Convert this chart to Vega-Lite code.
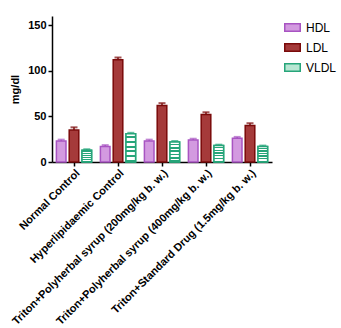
{
  "$schema": "https://vega.github.io/schema/vega-lite/v6.json",
  "width": 220,
  "height": 146,
  "autosize": {"type": "none"},
  "padding": {"left": 52, "top": 16, "right": 69, "bottom": 166},
  "background": "white",
  "config": {
    "font": "Liberation Sans",
    "view": {"stroke": null},
    "axis": {"grid": false, "domainColor": "black", "tickColor": "black", "domainWidth": 1.5, "tickWidth": 1.5, "labelColor": "black", "titleColor": "black", "labelFontWeight": "bold", "labelFont": "Liberation Sans"}
  },
  "data": {
    "values": [
      {"group": "Normal Control", "lipid": "HDL", "value": 23, "upper": 24.5},
      {"group": "Normal Control", "lipid": "LDL", "value": 35, "upper": 38},
      {"group": "Normal Control", "lipid": "VLDL", "value": 13, "upper": 14},
      {"group": "Hyperlipidaemic  Control", "lipid": "HDL", "value": 17, "upper": 18.5},
      {"group": "Hyperlipidaemic  Control", "lipid": "LDL", "value": 112, "upper": 114.5},
      {"group": "Hyperlipidaemic  Control", "lipid": "VLDL", "value": 31, "upper": 32},
      {"group": "Triton+Polyherbal syrup (200mg/kg b. w.)", "lipid": "HDL", "value": 23, "upper": 24.5},
      {"group": "Triton+Polyherbal syrup (200mg/kg b. w.)", "lipid": "LDL", "value": 62, "upper": 64.5},
      {"group": "Triton+Polyherbal syrup (200mg/kg b. w.)", "lipid": "VLDL", "value": 22, "upper": 23},
      {"group": "Triton+Polyherbal syrup (400mg/kg b. w.)", "lipid": "HDL", "value": 24, "upper": 25.5},
      {"group": "Triton+Polyherbal syrup (400mg/kg b. w.)", "lipid": "LDL", "value": 52, "upper": 54.5},
      {"group": "Triton+Polyherbal syrup (400mg/kg b. w.)", "lipid": "VLDL", "value": 18, "upper": 19},
      {"group": "Triton+Standard Drug (1.5mg/kg b. w.)", "lipid": "HDL", "value": 26, "upper": 27.5},
      {"group": "Triton+Standard Drug (1.5mg/kg b. w.)", "lipid": "LDL", "value": 40, "upper": 42.5},
      {"group": "Triton+Standard Drug (1.5mg/kg b. w.)", "lipid": "VLDL", "value": 17, "upper": 18}
    ]
  },
  "encoding": {
    "x": {
      "field": "group", "type": "nominal", "sort": null,
      "scale": {"paddingInner": 0.2, "paddingOuter": 0.1},
      "axis": {"title": null, "labelAngle": -45, "labelAlign": "right", "labelBaseline": "top", "labelFontSize": 11, "tickSize": 4, "labelPadding": 1, "labelLimit": 300}
    },
    "xOffset": {"field": "lipid", "type": "nominal", "scale": {"paddingInner": 0.25}}
  },
  "layer": [
    {
      "mark": {"type": "bar", "strokeWidth": 1.5},
      "encoding": {
        "y": {
          "field": "value", "type": "quantitative",
          "scale": {"domain": [0, 150]},
          "axis": {"values": [0, 50, 100, 150], "title": "mg/dl", "titleFontSize": 11, "titleFontWeight": "bold", "labelFontSize": 11, "tickSize": 4, "titlePadding": 7}
        },
        "fill": {
          "field": "lipid", "type": "nominal",
          "scale": {"domain": ["HDL", "LDL", "VLDL"], "range": ["#d39ae0", "#a53a3a", "#b9e6d3"]},
          "legend": {"title": null, "orient": "none", "legendX": 232, "legendY": 3, "labelFontSize": 12, "labelColor": "black", "symbolType": "M-1,-0.5H1V0.5H-1Z", "symbolSize": 240, "symbolStrokeWidth": 1.5, "rowPadding": 4, "labelOffset": 5}
        },
        "stroke": {
          "field": "lipid", "type": "nominal",
          "scale": {"domain": ["HDL", "LDL", "VLDL"], "range": ["#a854c2", "#7a0a0a", "#27a57a"]},
          "legend": null
        }
      }
    },
    {
      "transform": [{"filter": "datum.lipid === 'VLDL'"}],
      "mark": {
        "type": "bar", "strokeWidth": 1.5, "stroke": "#27a57a",
        "fill": {
          "gradient": "linear", "x1": 0, "y1": 0, "x2": 0, "y2": 1,
          "stops": [
            {"offset": 0, "color": "#ffffff"}, {"offset": 0.08, "color": "#ffffff"},
            {"offset": 0.08, "color": "#27a57a"}, {"offset": 0.16, "color": "#27a57a"},
            {"offset": 0.16, "color": "#ffffff"}, {"offset": 0.25, "color": "#ffffff"},
            {"offset": 0.25, "color": "#27a57a"}, {"offset": 0.33, "color": "#27a57a"},
            {"offset": 0.33, "color": "#ffffff"}, {"offset": 0.42, "color": "#ffffff"},
            {"offset": 0.42, "color": "#27a57a"}, {"offset": 0.5, "color": "#27a57a"},
            {"offset": 0.5, "color": "#ffffff"}, {"offset": 0.58, "color": "#ffffff"},
            {"offset": 0.58, "color": "#27a57a"}, {"offset": 0.66, "color": "#27a57a"},
            {"offset": 0.66, "color": "#ffffff"}, {"offset": 0.75, "color": "#ffffff"},
            {"offset": 0.75, "color": "#27a57a"}, {"offset": 0.83, "color": "#27a57a"},
            {"offset": 0.83, "color": "#ffffff"}, {"offset": 0.92, "color": "#ffffff"},
            {"offset": 0.92, "color": "#27a57a"}, {"offset": 1, "color": "#27a57a"}
          ]
        }
      },
      "encoding": {
        "y": {"field": "value", "type": "quantitative"}
      }
    },
    {
      "mark": {"type": "rule", "strokeWidth": 1.5},
      "encoding": {
        "y": {"field": "value", "type": "quantitative"},
        "y2": {"field": "upper"},
        "stroke": {"field": "lipid", "type": "nominal", "legend": null}
      }
    },
    {
      "mark": {"type": "tick", "thickness": 2, "size": 7, "orient": "horizontal"},
      "encoding": {
        "y": {"field": "upper", "type": "quantitative"},
        "color": {"field": "lipid", "type": "nominal", "scale": {"domain": ["HDL", "LDL", "VLDL"], "range": ["#a854c2", "#7a0a0a", "#27a57a"]}, "legend": null}
      }
    }
  ]
}
